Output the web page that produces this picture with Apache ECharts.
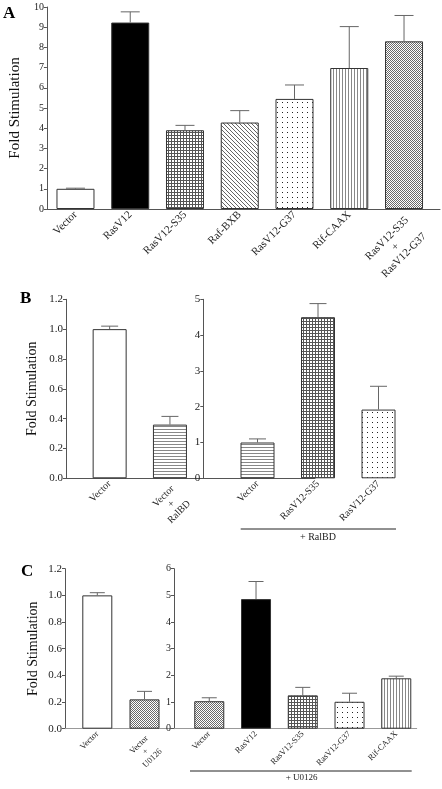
<!DOCTYPE html>
<html>
<head>
<meta charset="utf-8">
<script src="https://cdn.jsdelivr.net/npm/echarts@6/dist/echarts.min.js"></script>
<style>html,body{margin:0;padding:0;background:#fff}#c{width:442px;height:789px}</style>
</head>
<body>
<div id="c"></div>
<script>
// ---------- data ----------
const catsA = ['Vector', 'RasV12', 'RasV12-S35', 'Raf-BXB', 'RasV12-G37', 'Rif-CAAX', 'RasV12-S35\n+\nRasV12-G37'];
const meanA = [1.0, 9.23, 3.9, 4.28, 5.45, 6.98, 8.3];
const errA = [0.03, 0.53, 0.24, 0.59, 0.69, 2.05, 1.28];
const ticksA = [0, 1, 2, 3, 4, 5, 6, 7, 8, 9, 10];

const catsBL = ['Vector', 'Vector\n+\nRalBD'];
const meanBL = [1.0, 0.36];
const errBL = [0.02, 0.055];
const ticksBL = [0, 0.2, 0.4, 0.6, 0.8, 1.0, 1.2];

const catsBR = ['Vector', 'RasV12-S35', 'RasV12-G37'];
const meanBR = [1.0, 4.5, 1.92];
const errBR = [0.1, 0.38, 0.65];
const ticksBR = [0, 1, 2, 3, 4, 5];

const catsCL = ['Vector', 'Vector\n+\nU0126'];
const meanCL = [1.0, 0.22];
const errCL = [0.02, 0.06];
const ticksCL = [0, 0.2, 0.4, 0.6, 0.8, 1.0, 1.2];

const catsCR = ['Vector', 'RasV12', 'RasV12-S35', 'RasV12-G37', 'Rif-CAAX'];
const meanCR = [1.03, 4.86, 1.25, 1.01, 1.89];
const errCR = [0.13, 0.66, 0.3, 0.32, 0.08];
const ticksCR = [0, 1, 2, 3, 4, 5, 6];

// fill styles (by name)
const fillA = ['white', 'black', 'grid', 'diag', 'dots', 'vlines', 'checker'];
const fillBL = ['white', 'hlines'];
const fillBR = ['hlines', 'grid', 'dots'];
const fillCL = ['white', 'checker'];
const fillCR = ['checker', 'black', 'grid', 'dots', 'vlines'];

// ---------- patterns ----------
function pat(w, h, draw) {
  const c = document.createElement('canvas');
  c.width = w; c.height = h;
  const g = c.getContext('2d');
  g.fillStyle = '#fff'; g.fillRect(0, 0, w, h);
  draw(g);
  return { image: c, repeat: 'repeat' };
}
const FILLS = {
  white: '#ffffff',
  black: '#000000',
  grid: pat(3, 3, g => { g.fillStyle = '#555'; g.fillRect(0, 0, 3, 1); g.fillRect(0, 0, 1, 3); }),
  diag: pat(4, 4, g => { g.fillStyle = '#666'; for (let i = 0; i < 4; i++) g.fillRect(i, i, 1, 1); }),
  dots: pat(5, 5, g => { g.fillStyle = '#222'; g.fillRect(2, 2, 1, 1); }),
  vlines: pat(3, 1, g => { g.fillStyle = '#888'; g.fillRect(0, 0, 1, 1); }),
  hlines: pat(1, 3, g => { g.fillStyle = '#888'; g.fillRect(0, 0, 1, 1); }),
  checker: pat(2, 2, g => { g.fillStyle = '#6a6a6a'; g.fillRect(0, 0, 1, 1); g.fillRect(1, 1, 1, 1); })
};

const FONT = 'Liberation Serif';
const AX = '#555';
const measureCtx = document.createElement('canvas').getContext('2d');
function textW(s, size) { measureCtx.font = size + 'px "' + FONT + '"'; return measureCtx.measureText(s).width; }

const grids = [], xAxes = [], yAxes = [], series = [];

function panel(o) {
  const fi = grids.length;
  grids.push({ left: o.frame[0], top: o.top, width: o.frame[1], height: o.height });
  grids.push({ left: o.bars[0], top: o.top, width: o.bars[1], height: o.height });
  const ymin = o.ticks[0], ymax = o.ticks[o.ticks.length - 1], step = o.ticks[1] - o.ticks[0];
  xAxes.push({ gridIndex: fi, type: 'value', min: 0, max: 1, axisLine: { show: true, lineStyle: { color: o.xColor || AX, width: 1 } },
    axisTick: { show: false }, axisLabel: { show: false }, splitLine: { show: false } });
  yAxes.push({ gridIndex: fi, type: 'value', min: ymin, max: ymax, interval: step,
    axisLine: { show: true, lineStyle: { color: AX, width: 1 } },
    axisTick: { show: true, length: 3, lineStyle: { color: AX } },
    axisLabel: { fontFamily: FONT, fontSize: o.tickFont, color: '#222', margin: 3,
      formatter: v => o.dec ? v.toFixed(1) : String(Math.round(v)) },
    splitLine: { show: false },
    name: o.title || '', nameLocation: 'middle', nameGap: o.nameGap || 0,
    nameTextStyle: { fontFamily: FONT, fontSize: o.nameFont || 15, color: '#111' } });
  // multi-line labels: centered lines inside a fixed-width box
  let maxW = 0;
  o.cats.forEach(c => { if (c.indexOf('\n') >= 0) c.split('\n').forEach(l => { maxW = Math.max(maxW, textW(l, o.labFont)); }); });
  const catData = o.cats.map(c => c.indexOf('\n') >= 0 ? { value: c, textStyle: { verticalAlign: 'top' } } : c);
  xAxes.push({ gridIndex: fi + 1, type: 'category', data: catData, axisLine: { show: false }, axisTick: { show: false },
    axisLabel: { rotate: 45, interval: 0, fontFamily: FONT, fontSize: o.labFont, color: '#222', margin: o.labMargin || 4,
      lineHeight: o.labFont + 1,
      formatter: v => v.indexOf('\n') >= 0 ? v.split('\n').map(l => '{c|' + l + '}').join('\n') : v,
      rich: { c: { width: Math.ceil(maxW) + 1, align: 'center', fontFamily: FONT, fontSize: o.labFont, color: '#222', lineHeight: o.labFont + 1 } } } });
  yAxes.push({ gridIndex: fi + 1, type: 'value', min: ymin, max: ymax, show: false, splitLine: { show: false } });
  const ai = xAxes.length - 1;
  series.push({
    type: 'bar', xAxisIndex: ai, yAxisIndex: ai, barWidth: o.barWidth,
    data: o.means.map((v, i) => ({ value: v, itemStyle: { color: FILLS[o.fills[i]], borderColor: '#333', borderWidth: 1 } })),
    z: 2, silent: true
  });
  series.push({
    type: 'custom', xAxisIndex: ai, yAxisIndex: ai, z: 3, silent: true,
    data: o.means.map((v, i) => [i, v, o.errs[i]]),
    renderItem: (params, api) => {
      const x = api.value(0), y = api.value(1), e = api.value(2);
      const p0 = api.coord([x, y]), p1 = api.coord([x, y + e]);
      const hw = o.barWidth * 0.25;
      return { type: 'group', children: [
        { type: 'line', shape: { x1: p0[0], y1: p0[1], x2: p1[0], y2: p1[1] }, style: { stroke: '#666', lineWidth: 1 } },
        { type: 'line', shape: { x1: p1[0] - hw, y1: p1[1], x2: p1[0] + hw, y2: p1[1] }, style: { stroke: '#666', lineWidth: 1 } }
      ] };
    }
  });
}

panel({ frame: [39, 401], bars: [48.1, 383.3], top: 7, height: 202, ticks: ticksA, cats: catsA, means: meanA, errs: errA,
  fills: fillA, barWidth: 38, tickFont: 10, labFont: 11, title: 'Fold Stimulation', nameGap: 18, nameFont: 15 });
panel({ frame: [66, 136], bars: [79.5, 120.6], top: 299.3, height: 179, ticks: ticksBL, dec: true, cats: catsBL, means: meanBL, errs: errBL,
  fills: fillBL, barWidth: 34, tickFont: 11, labFont: 10, title: 'Fold Stimulation', nameGap: 27, nameFont: 14 });
panel({ frame: [203.3, 111.7], bars: [227.25, 181.5], top: 299.3, height: 179, ticks: ticksBR, cats: catsBR, means: meanBR, errs: errBR,
  fills: fillBR, barWidth: 34, tickFont: 11, labFont: 10 });
panel({ frame: [65, 109], bars: [73.7, 94.4], top: 568.7, height: 160, ticks: ticksCL, dec: true, cats: catsCL, means: meanCL, errs: errCL,
  fills: fillCL, barWidth: 30, tickFont: 11, labFont: 8.5, title: 'Fold Stimulation', nameGap: 25, nameFont: 14, xColor: '#999' });
panel({ frame: [174, 242.7], bars: [185.9, 233.75], top: 568.7, height: 160, ticks: ticksCR, cats: catsCR, means: meanCR, errs: errCR,
  fills: fillCR, barWidth: 30, tickFont: 10, labFont: 8.5, xColor: '#999' });

const graphic = [
  { type: 'text', left: 3, top: 5, style: { text: 'A', font: 'bold 17px "Liberation Serif"', fill: '#000' } },
  { type: 'text', left: 20, top: 290, style: { text: 'B', font: 'bold 17px "Liberation Serif"', fill: '#000' } },
  { type: 'text', left: 21, top: 563, style: { text: 'C', font: 'bold 17px "Liberation Serif"', fill: '#000' } },
  { type: 'line', shape: { x1: 240.7, y1: 529, x2: 396, y2: 529 }, style: { stroke: '#222', lineWidth: 1 } },
  { type: 'text', x: 318, y: 537, style: { text: '+ RalBD', font: '10px "Liberation Serif"', fill: '#222', textAlign: 'center', textVerticalAlign: 'middle' } },
  { type: 'line', shape: { x1: 190, y1: 771, x2: 411.7, y2: 771 }, style: { stroke: '#222', lineWidth: 1 } },
  { type: 'text', x: 301.7, y: 778, style: { text: '+ U0126', font: '9px "Liberation Serif"', fill: '#222', textAlign: 'center', textVerticalAlign: 'middle' } }
];

const chart = echarts.init(document.getElementById('c'), null, { renderer: 'canvas' });
chart.setOption({ animation: false, backgroundColor: '#fff', grid: grids, xAxis: xAxes, yAxis: yAxes, series: series, graphic: graphic });
</script>
</body>
</html>
